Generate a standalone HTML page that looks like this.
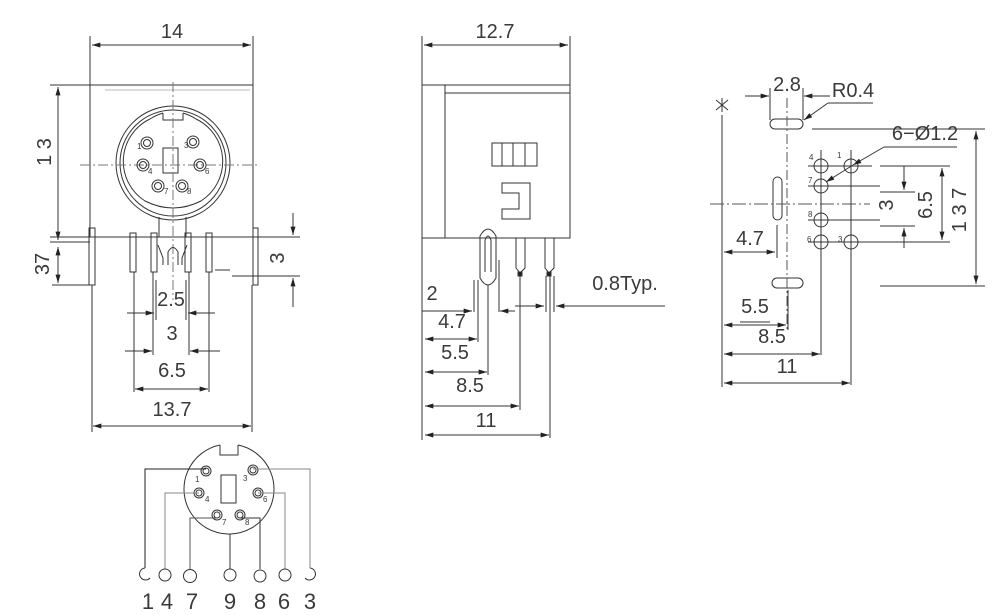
<!DOCTYPE html>
<html><head><meta charset="utf-8"><style>
html,body{margin:0;padding:0;background:#fff;}
svg{display:block}
text{font-family:"Liberation Sans",sans-serif;fill:#3a3a3a;}
</style></head><body>
<svg width="1000" height="615" viewBox="0 0 1000 615" xmlns="http://www.w3.org/2000/svg">
<defs>
<marker id="a" viewBox="0 0 10 6" refX="10" refY="3" markerWidth="12" markerHeight="5" orient="auto-start-reverse" markerUnits="userSpaceOnUse"><path d="M0,0 L10,3 L0,6 Z" fill="#222"/></marker>
</defs>
<g stroke="#333" stroke-width="1" fill="none">
<!-- ===== FRONT VIEW ===== -->
<line x1="90" y1="36" x2="90" y2="85"/><line x1="253" y1="36" x2="253" y2="85"/>
<line x1="92" y1="45" x2="251" y2="45" marker-start="url(#a)" marker-end="url(#a)"/>
<rect x="90" y="85" width="163" height="152"/>
<line x1="105" y1="90" x2="250" y2="90" stroke="#bbb"/>
<line x1="50" y1="85" x2="90" y2="85"/>
<line x1="58" y1="87" x2="58" y2="240" marker-start="url(#a)" marker-end="url(#a)"/>
<line x1="58" y1="247" x2="58" y2="283" marker-start="url(#a)" marker-end="url(#a)"/>
<line x1="50" y1="237" x2="90" y2="237"/><line x1="50" y1="242" x2="90" y2="242"/>
<line x1="52" y1="285" x2="92" y2="285"/>
<circle cx="173" cy="163" r="57"/><circle cx="173" cy="163" r="53"/>
<path d="M163,113 L163,120 L183,120 L183,113 M150,119 A47,47 0 0 0 145,201 Q173,215 201,201 A47,47 0 0 0 196,119"/>
<path d="M163,113 A48,48 0 0 0 150,119 M183,113 A48,48 0 0 1 196,119"/>
<rect x="163" y="148" width="15" height="25"/>
<line x1="173" y1="82" x2="173" y2="300" stroke-dasharray="10,3,2,3" stroke="#777"/>
<line x1="80" y1="165" x2="260" y2="165" stroke-dasharray="10,3,2,3" stroke="#777"/>
<g>
<circle cx="147" cy="143" r="6"/><circle cx="147" cy="143" r="3.5"/>
<circle cx="193" cy="142" r="6"/><circle cx="193" cy="142" r="3.5"/>
<circle cx="143" cy="165" r="6"/><circle cx="143" cy="165" r="3.5"/>
<circle cx="200" cy="165" r="6"/><circle cx="200" cy="165" r="3.5"/>
<circle cx="158" cy="186" r="6"/><circle cx="158" cy="186" r="3.5"/>
<circle cx="182" cy="186" r="6"/><circle cx="182" cy="186" r="3.5"/>
</g>
<path d="M159,217 V237 M186,217 V237"/>
<line x1="107" y1="237" x2="232" y2="237"/>
<rect x="89" y="228" width="6" height="57"/><rect x="253" y="228" width="5" height="57"/>
<rect x="130" y="233" width="6" height="39"/><rect x="151" y="233" width="6" height="39"/>
<rect x="185" y="233" width="6" height="39"/><rect x="206" y="233" width="6" height="39"/>
<path d="M168,265 V252 Q173,243 178,252 V265 M158,245 L163,258 V265 M187,245 L182,258 V265"/>
<line x1="232" y1="237" x2="300" y2="237"/><line x1="232" y1="276" x2="300" y2="276"/>
<line x1="215" y1="270" x2="230" y2="270"/>
<line x1="293" y1="213" x2="293" y2="235" marker-end="url(#a)"/>
<line x1="293" y1="307" x2="293" y2="278" marker-end="url(#a)"/>
<line x1="92" y1="285" x2="92" y2="432"/><line x1="252" y1="285" x2="252" y2="432"/>
<line x1="134" y1="272" x2="134" y2="392"/><line x1="209" y1="272" x2="209" y2="392"/>
<line x1="153" y1="272" x2="153" y2="355"/><line x1="189" y1="272" x2="189" y2="355"/>
<line x1="156" y1="280" x2="156" y2="320"/><line x1="186" y1="280" x2="186" y2="320"/>
<line x1="127" y1="313" x2="154" y2="313" marker-end="url(#a)"/>
<line x1="215" y1="313" x2="188" y2="313" marker-end="url(#a)"/>
<line x1="125" y1="351" x2="152" y2="351" marker-end="url(#a)"/>
<line x1="220" y1="351" x2="190" y2="351" marker-end="url(#a)"/>
<line x1="135" y1="389" x2="208" y2="389" marker-start="url(#a)" marker-end="url(#a)"/>
<line x1="93" y1="426" x2="251" y2="426" marker-start="url(#a)" marker-end="url(#a)"/>

<!-- ===== SIDE VIEW ===== -->
<line x1="422" y1="36" x2="422" y2="85"/><line x1="570" y1="36" x2="570" y2="85"/>
<line x1="424" y1="45" x2="568" y2="45" marker-start="url(#a)" marker-end="url(#a)"/>
<rect x="422" y="85" width="148" height="153"/>
<line x1="445" y1="85" x2="445" y2="238"/>
<line x1="445" y1="93" x2="570" y2="93"/>
<rect x="492" y="143" width="45" height="23"/>
<line x1="502" y1="143" x2="502" y2="166"/><line x1="513" y1="143" x2="513" y2="166"/><line x1="525" y1="143" x2="525" y2="166"/>
<path d="M502,183 H530 V219 H502 V209 H519 V193 H502 Z"/>
<line x1="422" y1="238" x2="422" y2="440"/>
<path d="M480,278 V236 Q488,222 496,236 V278 Q488,292 480,278 Z"/>
<path d="M485,272 V240 Q488,232 491,240 V272"/>
<path d="M516,238 V268 L520,273 L525,268 V238 M545,238 V268 L549,273 L554,268 V238"/>
<rect x="518" y="272" width="4" height="4" fill="#222"/><rect x="547" y="272" width="4" height="4" fill="#222"/>
<line x1="474" y1="280" x2="474" y2="312"/><line x1="478" y1="280" x2="478" y2="342"/>
<line x1="488" y1="285" x2="488" y2="375"/><line x1="499" y1="260" x2="499" y2="312"/>
<line x1="520" y1="276" x2="520" y2="410"/><line x1="550" y1="276" x2="550" y2="438"/>
<line x1="546" y1="276" x2="546" y2="312"/><line x1="554" y1="276" x2="554" y2="312"/>
<line x1="422" y1="311" x2="472" y2="311" marker-end="url(#a)"/>
<line x1="500" y1="311" x2="515" y2="311" marker-start="url(#a)"/>
<line x1="515" y1="306" x2="544" y2="306" marker-end="url(#a)"/>
<line x1="665" y1="306" x2="556" y2="306" marker-end="url(#a)"/>
<line x1="425" y1="339" x2="477" y2="339" marker-start="url(#a)" marker-end="url(#a)"/>
<line x1="425" y1="372" x2="487" y2="372" marker-start="url(#a)" marker-end="url(#a)"/>
<line x1="425" y1="406" x2="519" y2="406" marker-start="url(#a)" marker-end="url(#a)"/>
<line x1="425" y1="435" x2="549" y2="435" marker-start="url(#a)" marker-end="url(#a)"/>

<!-- ===== PCB FOOTPRINT ===== -->
<line x1="722" y1="115" x2="722" y2="387"/>
<line x1="770" y1="88" x2="770" y2="120"/><line x1="803" y1="88" x2="803" y2="120"/>
<line x1="745" y1="96" x2="769" y2="96" marker-end="url(#a)"/>
<line x1="830" y1="96" x2="804" y2="96" marker-end="url(#a)"/>
<line x1="873" y1="103" x2="828" y2="103"/><line x1="828" y1="103" x2="804" y2="120" marker-end="url(#a)"/>
<rect x="770" y="119" width="33" height="10" rx="5"/>
<rect x="772" y="278" width="31" height="10" rx="5"/>
<rect x="773" y="177" width="9" height="43" rx="4.5"/>
<line x1="787" y1="98" x2="787" y2="330" stroke-dasharray="10,3,2,3" stroke="#555"/>
<line x1="710" y1="204" x2="870" y2="204" stroke-dasharray="14,3,2,3" stroke="#555"/>
<line x1="812" y1="129" x2="985" y2="129"/>
<line x1="880" y1="286" x2="985" y2="286"/>
<g>
<circle cx="821" cy="166" r="7"/><circle cx="851" cy="166" r="7"/>
<circle cx="821" cy="186" r="7"/><circle cx="821" cy="220" r="7"/>
<circle cx="821" cy="242" r="7"/><circle cx="851" cy="242" r="7"/>
</g>
<line x1="821" y1="150" x2="821" y2="355"/><line x1="851" y1="150" x2="851" y2="385"/>
<line x1="808" y1="166" x2="872" y2="166"/><line x1="808" y1="186" x2="880" y2="186"/>
<line x1="808" y1="220" x2="880" y2="220"/><line x1="808" y1="242" x2="950" y2="242"/>
<line x1="880" y1="166" x2="950" y2="166"/>
<line x1="880" y1="192" x2="915" y2="192"/><line x1="880" y1="226" x2="915" y2="226"/>
<line x1="957" y1="147" x2="884" y2="147"/>
<line x1="884" y1="147" x2="853" y2="165" marker-end="url(#a)"/>
<line x1="853" y1="165" x2="826" y2="182" marker-end="url(#a)"/>
<line x1="904" y1="166" x2="904" y2="190" marker-end="url(#a)"/>
<line x1="904" y1="248" x2="904" y2="228" marker-end="url(#a)"/>
<line x1="942" y1="168" x2="942" y2="240" marker-start="url(#a)" marker-end="url(#a)"/>
<line x1="976" y1="131" x2="976" y2="284" marker-start="url(#a)" marker-end="url(#a)"/>
<line x1="777" y1="225" x2="777" y2="258"/>
<line x1="724" y1="252" x2="775" y2="252" marker-start="url(#a)" marker-end="url(#a)"/>
<line x1="788" y1="290" x2="788" y2="330"/>
<line x1="740" y1="322" x2="770" y2="322"/>
<line x1="724" y1="325" x2="786" y2="325" marker-start="url(#a)" marker-end="url(#a)"/>
<line x1="724" y1="354" x2="820" y2="354" marker-start="url(#a)" marker-end="url(#a)"/>
<line x1="724" y1="383" x2="850" y2="383" marker-start="url(#a)" marker-end="url(#a)"/>
<path d="M716,100 L728,110 M728,100 L716,110 M722,98 V112"/>

<!-- ===== PIN WIRING ===== -->
<path d="M220,445 V455 H238 V445"/>
<path d="M220,445 A45,45 0 1 0 238,445"/>
<rect x="221" y="475" width="15" height="28"/>
<g>
<circle cx="206" cy="471" r="5"/><circle cx="206" cy="471" r="3"/>
<circle cx="253" cy="470" r="5"/><circle cx="253" cy="470" r="3"/>
<circle cx="199" cy="493" r="5"/><circle cx="199" cy="493" r="3"/>
<circle cx="258" cy="493" r="5"/><circle cx="258" cy="493" r="3"/>
<circle cx="217" cy="515" r="5"/><circle cx="217" cy="515" r="3"/>
<circle cx="240" cy="515" r="5"/><circle cx="240" cy="515" r="3"/>
</g>
<path d="M206,469 H145 V568" stroke="#222"/>
<path d="M199,493 H165 V569" stroke="#888"/>
<path d="M217,518 H190 V569" stroke="#555"/>
<path d="M230,534 V569"/>
<path d="M240,518 H260 V569"/>
<path d="M258,493 H285 V569" stroke="#888"/>
<path d="M253,469 H310 V568" stroke="#888"/>
<path d="M145,568 A6,6 0 1 0 150,578"/>
<circle cx="165" cy="575" r="6"/><circle cx="190" cy="576" r="6.5"/>
<circle cx="230" cy="575" r="6"/><circle cx="260" cy="576" r="6"/>
<circle cx="285" cy="575" r="6"/>
<path d="M310,568 A6,6 0 1 1 305,578"/>
</g>

<!-- text -->
<g font-size="20">
<text x="172" y="38" text-anchor="middle">14</text>
<text x="495" y="38" text-anchor="middle">12.7</text>
<text x="171" y="306" text-anchor="middle">2.5</text>
<text x="172" y="340" text-anchor="middle">3</text>
<text x="172" y="377" text-anchor="middle">6.5</text>
<text x="172" y="416" text-anchor="middle">13.7</text>
<text x="432" y="300" text-anchor="middle">2</text>
<text x="452" y="328" text-anchor="middle">4.7</text>
<text x="455" y="359" text-anchor="middle">5.5</text>
<text x="470" y="392" text-anchor="middle">8.5</text>
<text x="486" y="427" text-anchor="middle">11</text>
<text x="625" y="290" text-anchor="middle">0.8Typ.</text>
<text x="787" y="91" text-anchor="middle">2.8</text>
<text x="853" y="97" text-anchor="middle">R0.4</text>
<text x="925" y="140" text-anchor="middle">6−Ø1.2</text>
<text x="750" y="245" text-anchor="middle">4.7</text>
<text x="755" y="313" text-anchor="middle">5.5</text>
<text x="772" y="343" text-anchor="middle">8.5</text>
<text x="787" y="373" text-anchor="middle">11</text>
<text transform="translate(51,152) rotate(-90)" text-anchor="middle">1 3</text>
<text transform="translate(49,264) rotate(-90)" text-anchor="middle">37</text>
<text transform="translate(284,258) rotate(-90)" text-anchor="middle">3</text>
<text transform="translate(893,205) rotate(-90)" text-anchor="middle">3</text>
<text transform="translate(932,205) rotate(-90)" text-anchor="middle">6.5</text>
<text transform="translate(966,210) rotate(-90)" text-anchor="middle">1 3 7</text>
</g>
<g font-size="8">
<text x="137" y="149">1</text><text x="184" y="148">3</text>
<text x="148" y="174">4</text><text x="205" y="174">6</text>
<text x="164" y="194">7</text><text x="187" y="194">8</text>
<text x="809" y="160">4</text><text x="837" y="158">1</text>
<text x="808" y="183">7</text><text x="808" y="217">8</text>
<text x="807" y="242">6</text><text x="838" y="242">3</text>
<text x="195" y="482">1</text><text x="243" y="481">3</text>
<text x="205" y="502">4</text><text x="263" y="502">6</text>
<text x="222" y="525">7</text><text x="245" y="525">8</text>
</g>
<g font-size="22">
<text x="148" y="609" text-anchor="middle">1</text>
<text x="167" y="609" text-anchor="middle">4</text>
<text x="192" y="609" text-anchor="middle">7</text>
<text x="230" y="609" text-anchor="middle">9</text>
<text x="260" y="609" text-anchor="middle">8</text>
<text x="284" y="609" text-anchor="middle">6</text>
<text x="310" y="609" text-anchor="middle">3</text>
</g>
</svg>
</body></html>
